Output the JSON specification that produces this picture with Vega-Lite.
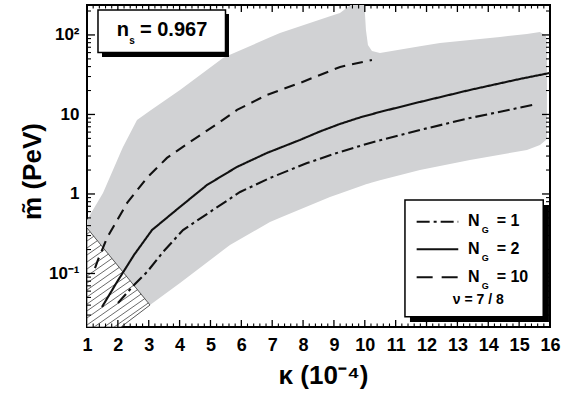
{
  "$schema": "https://vega.github.io/schema/vega-lite/v6.json",
  "autosize": "none",
  "width": 463,
  "height": 322,
  "padding": {"left": 87, "top": 5, "right": 26, "bottom": 66},
  "background": "white",
  "config": {
    "view": {"stroke": "black", "strokeWidth": 2},
    "axis": {
      "labelFont": "Liberation Sans",
      "labelFontWeight": "bold",
      "labelColor": "black",
      "titleFont": "Liberation Sans",
      "titleFontWeight": "bold",
      "titleColor": "black"
    },
    "text": {"font": "Liberation Sans", "fontWeight": "bold", "color": "black"}
  },
  "resolve": {"axis": {"x": "independent", "y": "independent"}},
  "datasets": {
    "band": [
      {"x": 1.000, "lo": 0.0146, "hi": 0.471},
      {"x": 1.518, "lo": 0.0146, "hi": 1.029},
      {"x": 1.842, "lo": 0.0146, "hi": 2.004},
      {"x": 2.101, "lo": 0.02123, "hi": 3.415},
      {"x": 2.166, "lo": 0.02218, "hi": 3.902},
      {"x": 2.620, "lo": 0.03014, "hi": 8.528},
      {"x": 3.041, "lo": 0.04016, "hi": 11.10},
      {"x": 4.013, "lo": 0.07596, "hi": 20.33},
      {"x": 5.406, "lo": 0.1957, "hi": 51.36},
      {"x": 5.632, "lo": 0.2283, "hi": 56.19},
      {"x": 6.928, "lo": 0.4444, "hi": 93.29},
      {"x": 7.252, "lo": 0.5020, "hi": 105.9},
      {"x": 8.872, "lo": 0.9168, "hi": 171.9},
      {"x": 9.196, "lo": 1.0146, "hi": 189.1},
      {"x": 9.584, "lo": 1.146, "hi": 245},
      {"x": 9.973, "lo": 1.294, "hi": 300},
      {"x": 10.037, "lo": 1.321, "hi": 115.6},
      {"x": 10.102, "lo": 1.348, "hi": 74.85},
      {"x": 10.232, "lo": 1.395, "hi": 62.9},
      {"x": 10.491, "lo": 1.483, "hi": 59.36},
      {"x": 11.787, "lo": 2.004, "hi": 72.1},
      {"x": 12.435, "lo": 2.250, "hi": 79.3},
      {"x": 13.407, "lo": 2.677, "hi": 86.5},
      {"x": 14.379, "lo": 3.122, "hi": 94.4},
      {"x": 15.253, "lo": 3.577, "hi": 102.9},
      {"x": 15.675, "lo": 4.134, "hi": 109.1},
      {"x": 15.869, "lo": 4.778, "hi": 97.1},
      {"x": 15.901, "lo": 5.064, "hi": 81.6}
    ],
    "hatch": [
      {"x": 1.000, "lo": 0.02123, "hi": 0.3735},
      {"x": 2.101, "lo": 0.02123, "hi": 0.112},
      {"x": 3.041, "lo": 0.0401, "hi": 0.0401}
    ],
    "hatchlines": [
      {"x": 1.000, "y": 0.3140, "x2": 1.101, "y2": 0.3345},
      {"x": 1.000, "y": 0.2564, "x2": 1.219, "y2": 0.2937},
      {"x": 1.000, "y": 0.2093, "x2": 1.337, "y2": 0.2586},
      {"x": 1.000, "y": 0.1709, "x2": 1.455, "y2": 0.2270},
      {"x": 1.000, "y": 0.1395, "x2": 1.573, "y2": 0.1999},
      {"x": 1.000, "y": 0.1139, "x2": 1.691, "y2": 0.1754},
      {"x": 1.000, "y": 0.0930, "x2": 1.809, "y2": 0.1544},
      {"x": 1.000, "y": 0.0759, "x2": 1.927, "y2": 0.1355},
      {"x": 1.000, "y": 0.0620, "x2": 2.045, "y2": 0.1193},
      {"x": 1.000, "y": 0.0506, "x2": 2.163, "y2": 0.1047},
      {"x": 1.000, "y": 0.0413, "x2": 2.281, "y2": 0.0922},
      {"x": 1.000, "y": 0.0338, "x2": 2.399, "y2": 0.0810},
      {"x": 1.000, "y": 0.0276, "x2": 2.517, "y2": 0.0713},
      {"x": 1.000, "y": 0.0225, "x2": 2.635, "y2": 0.0625},
      {"x": 1.231, "y": 0.02123, "x2": 2.753, "y2": 0.0551},
      {"x": 1.555, "y": 0.02123, "x2": 2.871, "y2": 0.0483},
      {"x": 1.879, "y": 0.02123, "x2": 2.989, "y2": 0.0426}
    ],
    "curves": [
      {"ng": "1", "x": 2.004, "y": 0.0426},
      {"ng": "1", "x": 2.523, "y": 0.0717},
      {"ng": "1", "x": 2.944, "y": 0.1044},
      {"ng": "1", "x": 3.462, "y": 0.186},
      {"ng": "1", "x": 4.11, "y": 0.352},
      {"ng": "1", "x": 5.08, "y": 0.629},
      {"ng": "1", "x": 5.96, "y": 1.06},
      {"ng": "1", "x": 6.93, "y": 1.59},
      {"ng": "1", "x": 8.13, "y": 2.45},
      {"ng": "1", "x": 9.20, "y": 3.38},
      {"ng": "1", "x": 10.17, "y": 4.38},
      {"ng": "1", "x": 11.79, "y": 6.38},
      {"ng": "1", "x": 13.41, "y": 9.03},
      {"ng": "1", "x": 15.45, "y": 13.2},
      {"ng": "2", "x": 1.486, "y": 0.0379},
      {"ng": "2", "x": 1.972, "y": 0.0782},
      {"ng": "2", "x": 2.523, "y": 0.171},
      {"ng": "2", "x": 3.106, "y": 0.352},
      {"ng": "2", "x": 4.01, "y": 0.686},
      {"ng": "2", "x": 4.89, "y": 1.30},
      {"ng": "2", "x": 5.86, "y": 2.19},
      {"ng": "2", "x": 6.83, "y": 3.28},
      {"ng": "2", "x": 7.90, "y": 4.78},
      {"ng": "2", "x": 8.548, "y": 6.11},
      {"ng": "2", "x": 9.196, "y": 7.60},
      {"ng": "2", "x": 9.844, "y": 9.17},
      {"ng": "2", "x": 10.491, "y": 10.75},
      {"ng": "2", "x": 11.139, "y": 12.43},
      {"ng": "2", "x": 11.787, "y": 14.36},
      {"ng": "2", "x": 13.407, "y": 20.33},
      {"ng": "2", "x": 15.027, "y": 27.97},
      {"ng": "2", "x": 16.0, "y": 33.27},
      {"ng": "10", "x": 1.259, "y": 0.117},
      {"ng": "10", "x": 1.356, "y": 0.148},
      {"ng": "10", "x": 1.648, "y": 0.280},
      {"ng": "10", "x": 2.30, "y": 0.771},
      {"ng": "10", "x": 2.94, "y": 1.59},
      {"ng": "10", "x": 3.59, "y": 2.84},
      {"ng": "10", "x": 4.34, "y": 4.51},
      {"ng": "10", "x": 5.31, "y": 8.05},
      {"ng": "10", "x": 5.86, "y": 11.4},
      {"ng": "10", "x": 6.83, "y": 17.6},
      {"ng": "10", "x": 7.90, "y": 24.9},
      {"ng": "10", "x": 9.20, "y": 39.6},
      {"ng": "10", "x": 10.23, "y": 48.5}
    ],
    "xmajor": [{"v": 2}, {"v": 3}, {"v": 4}, {"v": 5}, {"v": 6}, {"v": 7}, {"v": 8}, {"v": 9}, {"v": 10}, {"v": 11}, {"v": 12}, {"v": 13}, {"v": 14}, {"v": 15}],
    "xminor": [
      {"v": 1.2}, {"v": 1.4}, {"v": 1.6}, {"v": 1.8}, {"v": 2.2}, {"v": 2.4}, {"v": 2.6}, {"v": 2.8},
      {"v": 3.2}, {"v": 3.4}, {"v": 3.6}, {"v": 3.8}, {"v": 4.2}, {"v": 4.4}, {"v": 4.6}, {"v": 4.8},
      {"v": 5.2}, {"v": 5.4}, {"v": 5.6}, {"v": 5.8}, {"v": 6.2}, {"v": 6.4}, {"v": 6.6}, {"v": 6.8},
      {"v": 7.2}, {"v": 7.4}, {"v": 7.6}, {"v": 7.8}, {"v": 8.2}, {"v": 8.4}, {"v": 8.6}, {"v": 8.8},
      {"v": 9.2}, {"v": 9.4}, {"v": 9.6}, {"v": 9.8}, {"v": 10.2}, {"v": 10.4}, {"v": 10.6}, {"v": 10.8},
      {"v": 11.2}, {"v": 11.4}, {"v": 11.6}, {"v": 11.8}, {"v": 12.2}, {"v": 12.4}, {"v": 12.6}, {"v": 12.8},
      {"v": 13.2}, {"v": 13.4}, {"v": 13.6}, {"v": 13.8}, {"v": 14.2}, {"v": 14.4}, {"v": 14.6}, {"v": 14.8},
      {"v": 15.2}, {"v": 15.4}, {"v": 15.6}, {"v": 15.8}
    ],
    "ymajor": [{"v": 0.1}, {"v": 1}, {"v": 10}, {"v": 100}],
    "yminor": [
      {"v": 0.03}, {"v": 0.04}, {"v": 0.05}, {"v": 0.06}, {"v": 0.07}, {"v": 0.08}, {"v": 0.09},
      {"v": 0.2}, {"v": 0.3}, {"v": 0.4}, {"v": 0.5}, {"v": 0.6}, {"v": 0.7}, {"v": 0.8}, {"v": 0.9},
      {"v": 2}, {"v": 3}, {"v": 4}, {"v": 5}, {"v": 6}, {"v": 7}, {"v": 8}, {"v": 9},
      {"v": 20}, {"v": 30}, {"v": 40}, {"v": 50}, {"v": 60}, {"v": 70}, {"v": 80}, {"v": 90}, {"v": 200}
    ]
  },
  "layer": [
    {
      "data": {"name": "band"},
      "mark": {"type": "area", "color": "#d1d2d4", "clip": true},
      "encoding": {
        "x": {
          "field": "x", "type": "quantitative",
          "scale": {"domain": [1, 16], "nice": false, "zero": false},
          "axis": {
            "orient": "bottom",
            "domain": false,
            "ticks": false,
            "tickSize": 0,
            "grid": false,
            "values": [1,2,3,4,5,6,7,8,9,10,11,12,13,14,15,16],
            "labelPadding": 9,
            "labelFontSize": 18,
            "labelFlush": false,
            "labelOverlap": false,
            "labelBound": false,
            "title": "κ (10⁻⁴)",
            "titleFontSize": 26,
            "titleX": 236,
            "titleY": 56,
            "titleAlign": "center",
            "titleBaseline": "alphabetic"
          }
        },
        "y": {
          "field": "lo", "type": "quantitative",
          "scale": {"type": "log", "domain": [0.02123, 238], "nice": false},
          "axis": {
            "orient": "left",
            "domain": false,
            "ticks": false,
            "tickSize": 0,
            "grid": false,
            "values": [0.1, 1, 10, 100],
            "labelExpr": "datum.value == 100 ? '10²' : datum.value == 10 ? '10' : datum.value == 1 ? '1' : '10⁻¹'",
            "labelPadding": 8,
            "labelFontSize": 17,
            "labelFlush": false,
            "labelOverlap": false,
            "labelBound": false,
            "title": "m\u0303 (PeV)",
            "titleFontSize": 26,
            "titleAngle": -90,
            "titleX": -47,
            "titleY": 166,
            "titleAlign": "center",
            "titleBaseline": "alphabetic"
          }
        },
        "y2": {"field": "hi"}
      }
    },
    {
      "data": {"name": "hatch"},
      "mark": {"type": "area", "color": "white", "stroke": "#333333", "strokeWidth": 0.8, "clip": true},
      "encoding": {
        "x": {"field": "x", "type": "quantitative", "axis": null},
        "y": {"field": "lo", "type": "quantitative", "axis": null},
        "y2": {"field": "hi"}
      }
    },
    {
      "data": {"name": "hatchlines"},
      "mark": {"type": "rule", "color": "#444444", "strokeWidth": 0.8, "clip": true},
      "encoding": {
        "x": {"field": "x", "type": "quantitative", "axis": null},
        "y": {"field": "y", "type": "quantitative", "axis": null},
        "x2": {"field": "x2"},
        "y2": {"field": "y2"}
      }
    },
    {
      "data": {"name": "curves"},
      "mark": {"type": "line", "color": "#111111", "strokeWidth": 2.1, "clip": true},
      "encoding": {
        "x": {"field": "x", "type": "quantitative", "axis": null},
        "y": {"field": "y", "type": "quantitative", "axis": null},
        "detail": {"field": "ng"},
        "strokeDash": {
          "field": "ng", "type": "nominal",
          "scale": {"domain": ["1", "2", "10"], "range": [[12, 4, 3, 4], [1, 0], [11, 7]]},
          "legend": null
        }
      }
    },
    {
      "data": {"name": "xmajor"},
      "mark": {"type": "rule", "color": "black", "strokeWidth": 1.3},
      "encoding": {
        "x": {"field": "v", "type": "quantitative", "axis": null},
        "y": {"datum": 0.02123, "type": "quantitative", "axis": null},
        "y2": {"datum": 0.0260}
      }
    },
    {
      "data": {"name": "xmajor"},
      "mark": {"type": "rule", "color": "black", "strokeWidth": 1.3},
      "encoding": {
        "x": {"field": "v", "type": "quantitative", "axis": null},
        "y": {"datum": 238, "type": "quantitative", "axis": null},
        "y2": {"datum": 194.3}
      }
    },
    {
      "data": {"name": "xminor"},
      "mark": {"type": "rule", "color": "black", "strokeWidth": 1.1},
      "encoding": {
        "x": {"field": "v", "type": "quantitative", "axis": null},
        "y": {"datum": 0.02123, "type": "quantitative", "axis": null},
        "y2": {"datum": 0.0235}
      }
    },
    {
      "data": {"name": "xminor"},
      "mark": {"type": "rule", "color": "black", "strokeWidth": 1.1},
      "encoding": {
        "x": {"field": "v", "type": "quantitative", "axis": null},
        "y": {"datum": 238, "type": "quantitative", "axis": null},
        "y2": {"datum": 215.1}
      }
    },
    {
      "data": {"name": "ymajor"},
      "mark": {"type": "rule", "color": "black", "strokeWidth": 1.3},
      "encoding": {
        "y": {"field": "v", "type": "quantitative", "axis": null},
        "x": {"datum": 1, "type": "quantitative", "axis": null},
        "x2": {"datum": 1.259}
      }
    },
    {
      "data": {"name": "ymajor"},
      "mark": {"type": "rule", "color": "black", "strokeWidth": 1.3},
      "encoding": {
        "y": {"field": "v", "type": "quantitative", "axis": null},
        "x": {"datum": 16, "type": "quantitative", "axis": null},
        "x2": {"datum": 15.741}
      }
    },
    {
      "data": {"name": "yminor"},
      "mark": {"type": "rule", "color": "black", "strokeWidth": 1.1},
      "encoding": {
        "y": {"field": "v", "type": "quantitative", "axis": null},
        "x": {"datum": 1, "type": "quantitative", "axis": null},
        "x2": {"datum": 1.130}
      }
    },
    {
      "data": {"name": "yminor"},
      "mark": {"type": "rule", "color": "black", "strokeWidth": 1.1},
      "encoding": {
        "y": {"field": "v", "type": "quantitative", "axis": null},
        "x": {"datum": 16, "type": "quantitative", "axis": null},
        "x2": {"datum": 15.870}
      }
    },
    {
      "data": {"values": [{}]},
      "mark": {"type": "rect", "color": "black"},
      "encoding": {
        "x": {"datum": 1.486, "type": "quantitative", "axis": null},
        "x2": {"datum": 5.600},
        "y": {"datum": 183.7, "type": "quantitative", "axis": null},
        "y2": {"datum": 52.9}
      }
    },
    {
      "data": {"values": [{}]},
      "mark": {"type": "rect", "color": "white", "stroke": "black", "strokeWidth": 1.5},
      "encoding": {
        "x": {"datum": 1.356, "type": "quantitative", "axis": null},
        "x2": {"datum": 5.487},
        "y": {"datum": 206.3, "type": "quantitative", "axis": null},
        "y2": {"datum": 60.25}
      }
    },
    {
      "data": {"values": [{}]},
      "mark": {"type": "text", "fontSize": 20, "align": "left", "baseline": "alphabetic", "text": "n"},
      "encoding": {
        "x": {"datum": 1.962, "type": "quantitative", "axis": null},
        "y": {"datum": 97.14, "type": "quantitative", "axis": null}
      }
    },
    {
      "data": {"values": [{}]},
      "mark": {"type": "text", "fontSize": 10, "align": "left", "baseline": "alphabetic", "text": "s"},
      "encoding": {
        "x": {"datum": 2.370, "type": "quantitative", "axis": null},
        "y": {"datum": 77.07, "type": "quantitative", "axis": null}
      }
    },
    {
      "data": {"values": [{}]},
      "mark": {"type": "text", "fontSize": 20, "align": "left", "baseline": "alphabetic", "text": "= 0.967"},
      "encoding": {
        "x": {"datum": 2.717, "type": "quantitative", "axis": null},
        "y": {"datum": 97.14, "type": "quantitative", "axis": null}
      }
    },
    {
      "data": {"values": [{}]},
      "mark": {"type": "rect", "color": "black"},
      "encoding": {
        "x": {"datum": 11.463, "type": "quantitative", "axis": null},
        "x2": {"datum": 15.966},
        "y": {"datum": 0.7272, "type": "quantitative", "axis": null},
        "y2": {"datum": 0.02455}
      }
    },
    {
      "data": {"values": [{}]},
      "mark": {"type": "rect", "color": "white", "stroke": "black", "strokeWidth": 1.5},
      "encoding": {
        "x": {"datum": 11.301, "type": "quantitative", "axis": null},
        "x2": {"datum": 15.781},
        "y": {"datum": 0.8404, "type": "quantitative", "axis": null},
        "y2": {"datum": 0.02861}
      }
    },
    {
      "data": {"values": [{}]},
      "mark": {"type": "rule", "color": "#111111", "strokeWidth": 2.1, "strokeDash": [13, 4, 3, 4]},
      "encoding": {
        "x": {"datum": 11.680, "type": "quantitative", "axis": null},
        "x2": {"datum": 13.028},
        "y": {"datum": 0.4482, "type": "quantitative", "axis": null}
      }
    },
    {
      "data": {"values": [{}]},
      "mark": {"type": "rule", "color": "#111111", "strokeWidth": 2.1},
      "encoding": {
        "x": {"datum": 11.680, "type": "quantitative", "axis": null},
        "x2": {"datum": 13.028},
        "y": {"datum": 0.2016, "type": "quantitative", "axis": null}
      }
    },
    {
      "data": {"values": [{}]},
      "mark": {"type": "rule", "color": "#111111", "strokeWidth": 2.1, "strokeDash": [16, 9]},
      "encoding": {
        "x": {"datum": 11.680, "type": "quantitative", "axis": null},
        "x2": {"datum": 13.028},
        "y": {"datum": 0.08956, "type": "quantitative", "axis": null}
      }
    },
    {
      "data": {"values": [{}]},
      "mark": {"type": "text", "fontSize": 16, "align": "left", "baseline": "alphabetic", "text": "N"},
      "encoding": {
        "x": {"datum": 13.342, "type": "quantitative", "axis": null},
        "y": {"datum": 0.3959, "type": "quantitative", "axis": null}
      }
    },
    {
      "data": {"values": [{}]},
      "mark": {"type": "text", "fontSize": 9, "align": "left", "baseline": "alphabetic", "text": "G"},
      "encoding": {
        "x": {"datum": 13.786, "type": "quantitative", "axis": null},
        "y": {"datum": 0.3260, "type": "quantitative", "axis": null}
      }
    },
    {
      "data": {"values": [{}]},
      "mark": {"type": "text", "fontSize": 16, "align": "left", "baseline": "alphabetic", "text": "= 1"},
      "encoding": {
        "x": {"datum": 14.272, "type": "quantitative", "axis": null},
        "y": {"datum": 0.3959, "type": "quantitative", "axis": null}
      }
    },
    {
      "data": {"values": [{}]},
      "mark": {"type": "text", "fontSize": 16, "align": "left", "baseline": "alphabetic", "text": "N"},
      "encoding": {
        "x": {"datum": 13.342, "type": "quantitative", "axis": null},
        "y": {"datum": 0.1759, "type": "quantitative", "axis": null}
      }
    },
    {
      "data": {"values": [{}]},
      "mark": {"type": "text", "fontSize": 9, "align": "left", "baseline": "alphabetic", "text": "G"},
      "encoding": {
        "x": {"datum": 13.786, "type": "quantitative", "axis": null},
        "y": {"datum": 0.1437, "type": "quantitative", "axis": null}
      }
    },
    {
      "data": {"values": [{}]},
      "mark": {"type": "text", "fontSize": 16, "align": "left", "baseline": "alphabetic", "text": "= 2"},
      "encoding": {
        "x": {"datum": 14.272, "type": "quantitative", "axis": null},
        "y": {"datum": 0.1759, "type": "quantitative", "axis": null}
      }
    },
    {
      "data": {"values": [{}]},
      "mark": {"type": "text", "fontSize": 16, "align": "left", "baseline": "alphabetic", "text": "N"},
      "encoding": {
        "x": {"datum": 13.342, "type": "quantitative", "axis": null},
        "y": {"datum": 0.07882, "type": "quantitative", "axis": null}
      }
    },
    {
      "data": {"values": [{}]},
      "mark": {"type": "text", "fontSize": 9, "align": "left", "baseline": "alphabetic", "text": "G"},
      "encoding": {
        "x": {"datum": 13.786, "type": "quantitative", "axis": null},
        "y": {"datum": 0.06383, "type": "quantitative", "axis": null}
      }
    },
    {
      "data": {"values": [{}]},
      "mark": {"type": "text", "fontSize": 16, "align": "left", "baseline": "alphabetic", "text": "= 10"},
      "encoding": {
        "x": {"datum": 14.272, "type": "quantitative", "axis": null},
        "y": {"datum": 0.07882, "type": "quantitative", "axis": null}
      }
    },
    {
      "data": {"values": [{}]},
      "mark": {"type": "text", "fontSize": 14, "align": "center", "baseline": "alphabetic", "text": "ν = 7 / 8"},
      "encoding": {
        "x": {"datum": 13.676, "type": "quantitative", "axis": null},
        "y": {"datum": 0.04133, "type": "quantitative", "axis": null}
      }
    }
  ]
}
